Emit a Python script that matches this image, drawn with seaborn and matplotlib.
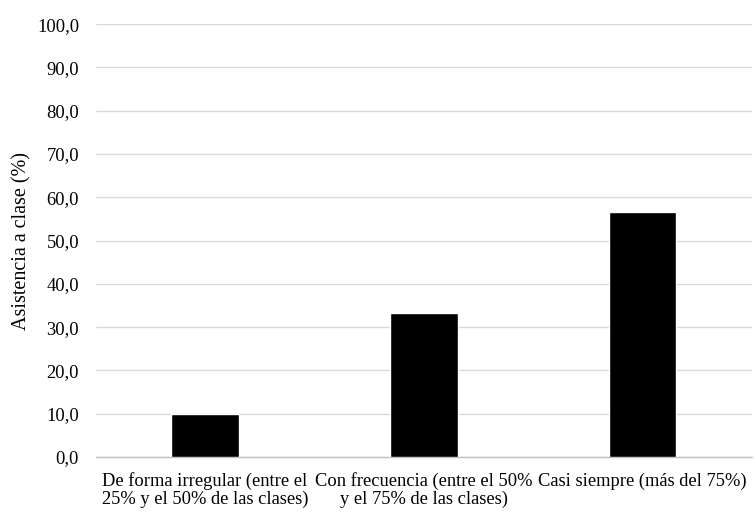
import matplotlib
matplotlib.use("Agg")
import matplotlib.pyplot as plt
import seaborn as sns
import pandas as pd
from matplotlib.ticker import FuncFormatter, FixedLocator

# Datos
categorias = [
    "De forma irregular (entre el\n25% y el 50% de las clases)",
    "Con frecuencia (entre el 50%\ny el 75% de las clases)",
    "Casi siempre (más del 75%)",
]
asistencia = [10.0, 33.3, 56.7]

df = pd.DataFrame({"categoria": categorias, "asistencia": asistencia})

sns.set_theme(style="white")
plt.rcParams["font.family"] = ["Liberation Serif", "DejaVu Serif"]

fig = plt.figure(figsize=(7.54, 5.14), dpi=100)
ax = fig.add_axes([0.127, 0.111, 0.870, 0.842])

sns.barplot(data=df, x="categoria", y="asistencia", color="black",
            width=0.31, saturation=1, ax=ax, zorder=3)

ax.set_ylim(0, 100)
ax.set_xlim(-0.5, 2.5)
ax.set_yticks(range(0, 101, 10))
ax.yaxis.set_major_formatter(FuncFormatter(lambda v, p: f"{v:.1f}".replace(".", ",")))
ax.grid(axis="y", color="#d9d9d9", linewidth=1, zorder=0)
ax.set_axisbelow(True)

for s in ["top", "right", "left"]:
    ax.spines[s].set_visible(False)
ax.spines["bottom"].set_color("#bfbfbf")
ax.spines["bottom"].set_linewidth(1)

# marcas entre categorías
ax.xaxis.set_minor_locator(FixedLocator([-0.5, 0.5, 1.5, 2.5]))
ax.tick_params(axis="x", which="minor", length=5, color="#bfbfbf", width=1)
ax.tick_params(axis="x", which="major", length=0, pad=11, labelsize=13.3,
               labelcolor="black")
ax.tick_params(axis="y", length=0, pad=12, labelsize=13.3, labelcolor="black")
for lbl in ax.get_xticklabels():
    lbl.set_linespacing(1.05)

ax.set_xlabel("")
ax.set_ylabel("Asistencia a clase (%)", fontsize=14.5, color="black")
ax.yaxis.set_label_coords(-0.098, 0.5)

fig.savefig("out.png", dpi=100)
